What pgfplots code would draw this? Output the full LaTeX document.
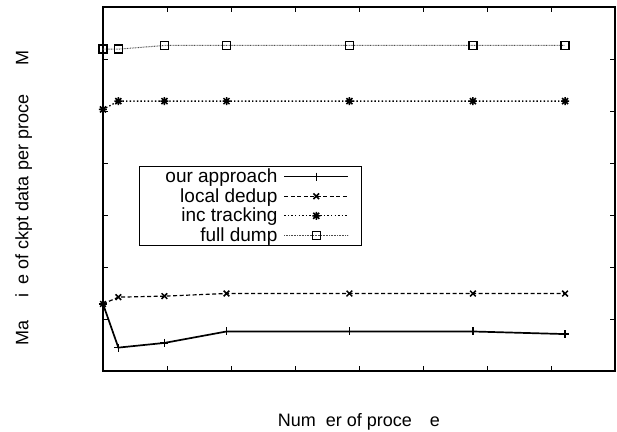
\documentclass[border=0pt]{standalone}
\usepackage{fontspec}
\setmainfont{Liberation Sans}
\usepackage{pgfplots}
\pgfplotsset{compat=1.18}

% gnuplot style star: a + and an x on top of each other
\pgfdeclareplotmark{gpstar}{%
  \pgfpathmoveto{\pgfpoint{-\pgfplotmarksize}{0pt}}%
  \pgfpathlineto{\pgfpoint{\pgfplotmarksize}{0pt}}%
  \pgfpathmoveto{\pgfpoint{0pt}{-\pgfplotmarksize}}%
  \pgfpathlineto{\pgfpoint{0pt}{\pgfplotmarksize}}%
  \pgfpathmoveto{\pgfpoint{-0.75\pgfplotmarksize}{-0.75\pgfplotmarksize}}%
  \pgfpathlineto{\pgfpoint{0.75\pgfplotmarksize}{0.75\pgfplotmarksize}}%
  \pgfpathmoveto{\pgfpoint{-0.75\pgfplotmarksize}{0.75\pgfplotmarksize}}%
  \pgfpathlineto{\pgfpoint{0.75\pgfplotmarksize}{-0.75\pgfplotmarksize}}%
  \pgfusepathqstroke}

\begin{document}
\begin{tikzpicture}
\useasboundingbox (-103bp,-61bp) rectangle (514bp,371bp);
\begin{axis}[
    at={(0,0)}, anchor=south west,
    width=512bp, height=364bp, scale only axis,
    xmin=0, xmax=8, ymin=0, ymax=7,
    xtick={0,...,8}, ytick={0,...,7},
    xticklabels={}, yticklabels={},
    tick align=inside, major tick length=5bp,
    axis line style={line width=1.1bp},
    every tick/.style={black, line width=0.9bp},
    clip=false,
    font=\fontsize{18bp}{21bp}\selectfont,
    xlabel={Num\hphantom{b}er of proce\hphantom{ss}e},
    ylabel={Ma\hphantom{x s}i\hphantom{z}e of ckpt data per proce\hphantom{ss (}M\hphantom{B)}},
    xlabel style={at={(axis description cs:0.5,-0.14)}, anchor=center},
    ylabel style={at={(axis description cs:-0.155,0.5)}, anchor=center},
    legend plot pos=right,
    legend cell align=right,
    legend image code/.code={%
        \path (-4.5bp,0bp) (64bp,0bp);
        \draw[mark repeat=2,mark phase=2,#1]
            plot coordinates {(0bp,0bp) (32bp,0bp) (64bp,0bp)};},
    legend style={
        at={(axis description cs:0.0703,0.563)}, anchor=north west,
        draw=black, line width=0.9bp,
        font=\fontsize{19bp}{21bp}\selectfont,
        row sep=1.3bp, inner xsep=12bp, inner ysep=1bp,
        nodes={inner sep=1.5bp},
    },
]
\addplot[black, line width=1.7bp, mark=+, mark size=4bp,
    mark options={solid, line width=1.3bp}] coordinates {
    (0,1.29) (0.24,0.45) (0.96,0.54) (1.93,0.76) (3.85,0.76) (5.78,0.76) (7.22,0.71)
};
\addlegendentry{\hspace*{12.5bp}our approach}
\addplot[black, line width=1.2bp, dash pattern=on 4bp off 2.5bp, mark=x, mark size=4bp,
    mark options={solid, line width=1.5bp}] coordinates {
    (0,1.29) (0.24,1.42) (0.96,1.44) (1.93,1.49) (3.85,1.49) (5.78,1.49) (7.22,1.49)
};
\addlegendentry{local dedup}
\addplot[black, line width=1.3bp, dash pattern=on 1.4bp off 2.2bp, mark=gpstar, mark size=4bp,
    mark options={solid, line width=1.5bp}] coordinates {
    (0,5.03) (0.24,5.19) (0.96,5.19) (1.93,5.19) (3.85,5.19) (5.78,5.19) (7.22,5.19)
};
\addlegendentry{inc tracking}
\addplot[black!70, line width=1bp, dash pattern=on 0.8bp off 0.8bp, mark=square, mark size=4bp,
    mark options={solid, black, line width=1.5bp}] coordinates {
    (0,6.19) (0.24,6.19) (0.96,6.26) (1.93,6.26) (3.85,6.26) (5.78,6.26) (7.22,6.26)
};
\addlegendentry{full dump}
\end{axis}
\end{tikzpicture}
\end{document}
